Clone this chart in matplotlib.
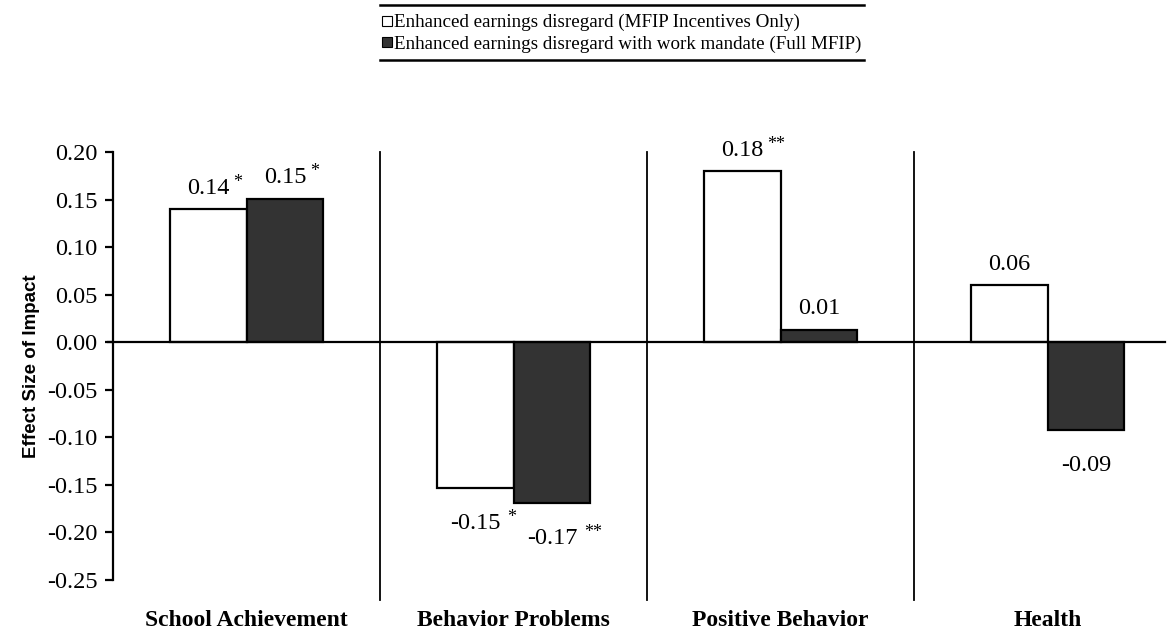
import matplotlib
matplotlib.use("Agg")
import matplotlib.pyplot as plt
import numpy as np
from matplotlib.lines import Line2D
import matplotlib.transforms as mtransforms

categories = ["School Achievement", "Behavior Problems", "Positive Behavior", "Health"]
incentives_only = [0.14, -0.153, 0.18, 0.06]
full_mfip = [0.151, -0.169, 0.013, -0.092]
incentives_labels = ["0.14", "-0.15", "0.18", "0.06"]
incentives_stars = ["*", "*", "**", ""]
full_labels = ["0.15", "-0.17", "0.01", "-0.09"]
full_stars = ["*", "**", "", ""]
yticks = [0.20, 0.15, 0.10, 0.05, 0.00, -0.05, -0.10, -0.15, -0.20, -0.25]
series_names = ["Enhanced earnings disregard (MFIP Incentives Only)",
                "Enhanced earnings disregard with work mandate (Full MFIP)"]

serif = "Liberation Serif"
W, H = 1173, 638
fig = plt.figure(figsize=(W / 100, H / 100), dpi=100)
ax = fig.add_axes([113 / W, 1 - 580 / H, (1165 - 113) / W, (580 - 152) / H])

x = np.arange(len(categories))
bw = 0.288
dark = "#333333"
ax.bar(x - bw / 2, incentives_only, bw, facecolor="white", edgecolor="black", linewidth=1.6, zorder=2)
ax.bar(x + bw / 2, full_mfip, bw, facecolor=dark, edgecolor="black", linewidth=1.6, zorder=2)

ax.set_xlim(-0.5, 3.44)
ax.set_ylim(-0.25, 0.20)
ax.set_yticks(yticks)
ax.set_yticklabels([f"{v:.2f}" for v in yticks], fontfamily=serif, fontsize=17.5)
ax.tick_params(axis="y", direction="out", length=6, width=1.6, pad=5)
ax.set_xticks([])
for s in ["top", "right", "bottom"]:
    ax.spines[s].set_visible(False)
ax.spines["left"].set_linewidth(1.6)

# zero line extending slightly left of the spine
ax.plot([-5 / 1052, 1.0], [0, 0], transform=mtransforms.blended_transform_factory(ax.transAxes, ax.transData),
        color="black", linewidth=1.6, clip_on=False, zorder=3)

# separators
for i in range(len(categories) - 1):
    xs = (x[i] + x[i + 1]) / 2
    ax.plot([xs, xs], [0.2, -0.271], color="black", linewidth=1.3, clip_on=False, zorder=1)

ax.set_ylabel("Effect Size of Impact", fontfamily="Liberation Sans", fontweight="bold", fontsize=13.5, labelpad=5)

# category labels
trans = mtransforms.blended_transform_factory(ax.transData, ax.transAxes)
for xi, c in zip(x, categories):
    ax.text(xi, -0.095, c, transform=trans, ha="center", va="center",
            fontfamily=serif, fontweight="bold", fontsize=17)

# value labels
px = 0.05 / 47.6  # data units per pixel


def value_label(xc, val, txt, star):
    if val >= 0:
        y = val + 21 * px
    else:
        y = val - 36 * px
    ax.text(xc, y, txt, ha="center", va="center", fontfamily=serif, fontsize=17.5)
    if star:
        off = 0.095 + 0.025 * (len(txt) - 4)
        ax.text(xc + off, y + 6 * px, star, ha="left", va="center",
                fontfamily=serif, fontsize=13)


for i in range(len(categories)):
    value_label(x[i] - bw / 2, incentives_only[i], incentives_labels[i], incentives_stars[i])
    value_label(x[i] + bw / 2, full_mfip[i], full_labels[i], full_stars[i])

handles = [Line2D([], [], marker="s", linestyle="none", markersize=6.5, markerfacecolor="white",
                  markeredgecolor="black", markeredgewidth=0.8),
           Line2D([], [], marker="s", linestyle="none", markersize=6.5, markerfacecolor=dark,
                  markeredgecolor="black", markeredgewidth=0.8)]
leg = fig.legend(handles, series_names, loc="upper center", bbox_to_anchor=(622 / W, 1 - 14 / H),
                 frameon=False, handlelength=0.5, handletextpad=0.15, borderpad=0,
                 labelspacing=0.22, borderaxespad=0, prop={"family": serif, "size": 13.7})

fig.canvas.draw()
bb = leg.get_window_extent().transformed(fig.transFigure.inverted())
for yy in (1 - 5 / H, 1 - 60 / H):
    fig.add_artist(Line2D([bb.x0 - 2 / W, bb.x1 + 2 / W], [yy, yy], transform=fig.transFigure,
                          color="black", linewidth=1.8))

fig.savefig("out.png", dpi=100)
